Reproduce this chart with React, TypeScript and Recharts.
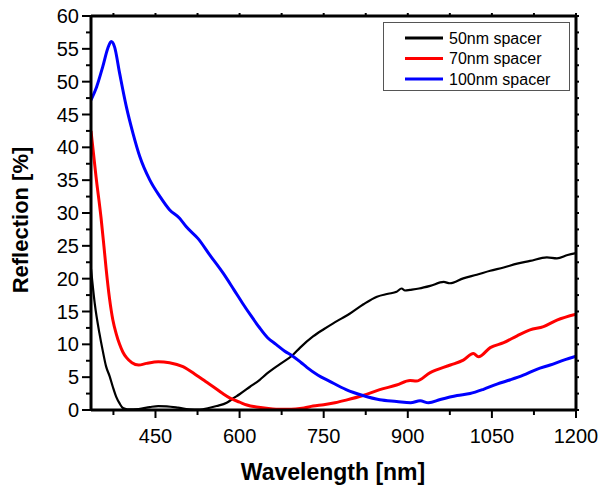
import React from 'react';
import { LineChart, Line, XAxis, YAxis } from 'recharts';

// ---- data ----
const seriesNames = ['50nm spacer', '70nm spacer', '100nm spacer'];
const seriesColors = ['#000000', '#ff0000', '#0000ff'];

const wl50 = [335, 342, 350, 356, 362, 368, 374, 380, 386, 392, 400, 420, 440, 455, 470, 490, 510, 529, 545, 559, 577, 589, 600, 618, 636, 648, 672, 694, 708, 731, 750, 767, 779, 797, 821, 845, 865, 880, 889, 895, 904, 920, 940, 964, 975, 999, 1023, 1047, 1071, 1095, 1118, 1148, 1166, 1185, 1200];
const refl50 = [21.5, 16, 11.7, 9, 6.6, 5.2, 3.5, 2.0, 1.0, 0.3, 0.1, 0.15, 0.45, 0.6, 0.55, 0.35, 0.1, 0.05, 0.3, 0.6, 1.1, 1.8, 2.4, 3.5, 4.6, 5.5, 7.0, 8.3, 9.5, 11.2, 12.3, 13.2, 13.8, 14.7, 16.1, 17.25, 17.7, 18.0, 18.5, 18.2, 18.3, 18.5, 18.9, 19.5, 19.3, 20.05, 20.6, 21.2, 21.7, 22.3, 22.7, 23.25, 23.1, 23.6, 23.9];

const wl70 = [335, 344, 353, 358, 362, 368, 374, 380, 386, 392, 398, 408, 420, 434, 455, 475, 499, 523, 540, 553, 570, 583, 600, 613, 630, 648, 665, 684, 700, 715, 731, 750, 770, 790, 820, 850, 880, 904, 915, 940, 976, 999, 1017, 1026, 1047, 1071, 1095, 1118, 1142, 1166, 1200];
const refl70 = [42.5, 35.5, 29.2, 25, 21.5, 17, 13.7, 11.6, 10.0, 8.8, 8.0, 7.2, 6.85, 7.1, 7.35, 7.2, 6.6, 5.3, 4.3, 3.55, 2.5, 1.8, 1.2, 0.76, 0.45, 0.25, 0.12, 0.1, 0.15, 0.3, 0.6, 0.8, 1.1, 1.5, 2.2, 3.1, 3.8, 4.5, 4.4, 5.7, 6.85, 7.6, 8.6, 8.1, 9.5, 10.25, 11.3, 12.2, 12.7, 13.7, 14.6];

const wl100 = [335, 345, 356, 365, 371, 377, 386, 398, 410, 422, 440, 458, 475, 493, 505, 526, 547, 571, 590, 605, 620, 635, 650, 665, 680, 695, 710, 720, 740, 760, 790, 820, 850, 880, 905, 922, 937, 958, 988, 1011, 1035, 1059, 1083, 1106, 1130, 1154, 1178, 1200];
const refl100 = [47.2, 49.2, 52.3, 55.1, 56.1, 55.3, 51.3, 46.2, 42.1, 38.6, 35.0, 32.5, 30.5, 29.2, 27.9, 26.1, 23.6, 20.8, 18.3, 16.3, 14.4, 12.6, 11.0, 10.0, 9.0, 8.2, 7.2, 6.5, 5.3, 4.4, 3.1, 2.2, 1.55, 1.3, 1.1, 1.4, 1.1, 1.6, 2.2, 2.5, 3.15, 3.95, 4.6, 5.3, 6.2, 6.85, 7.6, 8.2];

const xMajorTicks = [450, 600, 750, 900, 1050, 1200];
const xAllTicks = [375, 450, 525, 600, 675, 750, 825, 900, 975, 1050, 1125, 1200];
const yMajorTicks = [0, 5, 10, 15, 20, 25, 30, 35, 40, 45, 50, 55, 60];
const yAllTicks = [0, 2.5, 5, 7.5, 10, 12.5, 15, 17.5, 20, 22.5, 25, 27.5, 30, 32.5, 35, 37.5, 40, 42.5, 45, 47.5, 50, 52.5, 55, 57.5, 60];

const xTitle = 'Wavelength [nm]';
const yTitle = 'Reflection [%]';

const toPoints = (xs: number[], ys: number[]) => xs.map((x, i) => ({ x, y: ys[i] }));
const seriesData = [toPoints(wl50, refl50), toPoints(wl70, refl70), toPoints(wl100, refl100)];
const seriesWidths = [2.2, 3, 3];

const FONT = '"Liberation Sans", Arial, Helvetica, sans-serif';

const W = 600;
const H = 489;

const BottomTick = (props: any) => {
  const { x, y, payload } = props;
  const major = xMajorTicks.includes(payload.value);
  return (
    <g>
      <line x1={x} x2={x} y1={y} y2={y + (major ? 8 : 5)} stroke="#000" strokeWidth={2} />
      {major && (
        <text x={x} y={y + 33} textAnchor="middle" fontSize={20} fontFamily={FONT} fill="#000">
          {payload.value}
        </text>
      )}
    </g>
  );
};

const LeftTick = (props: any) => {
  const { x, y, payload } = props;
  const major = yMajorTicks.includes(payload.value);
  return (
    <g>
      <line x1={x} x2={x - (major ? 9 : 5)} y1={y} y2={y} stroke="#000" strokeWidth={2} />
      {major && (
        <text x={x - 12} y={y} dy="0.35em" textAnchor="end" fontSize={20} fontFamily={FONT} fill="#000">
          {payload.value}
        </text>
      )}
    </g>
  );
};

const TopTick = (props: any) => {
  const { x, y } = props;
  return <line x1={x} x2={x} y1={y} y2={y - 3} stroke="#000" strokeWidth={2} />;
};

const RightTick = (props: any) => {
  const { x, y } = props;
  return <line x1={x} x2={x + 3} y1={y} y2={y} stroke="#000" strokeWidth={2} />;
};

export default function App() {
  return (
    <div style={{ position: 'relative', width: W, height: H }}>
      <style>{'html{overflow:hidden}body{margin:0}'}</style>
      <LineChart
        width={W}
        height={H}
        margin={{ top: 15, right: 23, bottom: 0, left: 0 }}
        style={{ overflow: 'visible' }}
      >
        <XAxis
          xAxisId="b"
          type="number"
          dataKey="x"
          domain={[335, 1200]}
          allowDataOverflow
          ticks={xAllTicks}
          interval={0}
          tickSize={0}
          tickMargin={0}
          height={79}
          axisLine={{ stroke: '#000', strokeWidth: 3 }}
          tickLine={false}
          tick={<BottomTick />}
        />
        <XAxis
          xAxisId="t"
          orientation="top"
          type="number"
          dataKey="x"
          domain={[335, 1200]}
          allowDataOverflow
          ticks={xAllTicks}
          interval={0}
          tickSize={0}
          tickMargin={0}
          height={1}
          axisLine={{ stroke: '#000', strokeWidth: 3 }}
          tickLine={false}
          tick={<TopTick />}
        />
        <YAxis
          yAxisId="l"
          type="number"
          domain={[0, 60]}
          allowDataOverflow
          ticks={yAllTicks}
          interval={0}
          tickSize={0}
          tickMargin={0}
          width={91}
          axisLine={{ stroke: '#000', strokeWidth: 3 }}
          tickLine={false}
          tick={<LeftTick />}
        />
        <YAxis
          yAxisId="r"
          orientation="right"
          type="number"
          domain={[0, 60]}
          allowDataOverflow
          ticks={yAllTicks}
          interval={0}
          tickSize={0}
          tickMargin={0}
          width={1}
          axisLine={{ stroke: '#000', strokeWidth: 3 }}
          tickLine={false}
          tick={<RightTick />}
        />
        {seriesData.map((d, i) => (
          <Line
            key={seriesNames[i]}
            xAxisId="b"
            yAxisId="l"
            data={d}
            dataKey="y"
            type="monotone"
            stroke={seriesColors[i]}
            strokeWidth={seriesWidths[i]}
            dot={false}
            activeDot={false}
            isAnimationActive={false}
          />
        ))}
      </LineChart>
      <svg
        width={W}
        height={H}
        style={{ position: 'absolute', left: 0, top: 0, pointerEvents: 'none', overflow: 'visible' }}
      >
        <text
          transform="translate(28,220) rotate(-90)"
          textAnchor="middle"
          fontSize={22}
          fontWeight="bold"
          fontFamily={FONT}
          fill="#000"
        >
          {yTitle}
        </text>
        <text x={333} y={480} textAnchor="middle" fontSize={23} fontWeight="bold" fontFamily={FONT} fill="#000">
          {xTitle}
        </text>
        <rect x={383.5} y={22.5} width={186} height={68} fill="#fff" stroke="#555" strokeWidth={1} />
        {seriesNames.map((name, i) => (
          <g key={name}>
            <line x1={405} x2={443} y1={38 + i * 20.5} y2={38 + i * 20.5} stroke={seriesColors[i]} strokeWidth={3} />
            <text x={449} y={38 + i * 20.5} dy="0.35em" fontSize={16} fontFamily={FONT} fill="#000">
              {name}
            </text>
          </g>
        ))}
      </svg>
    </div>
  );
}
